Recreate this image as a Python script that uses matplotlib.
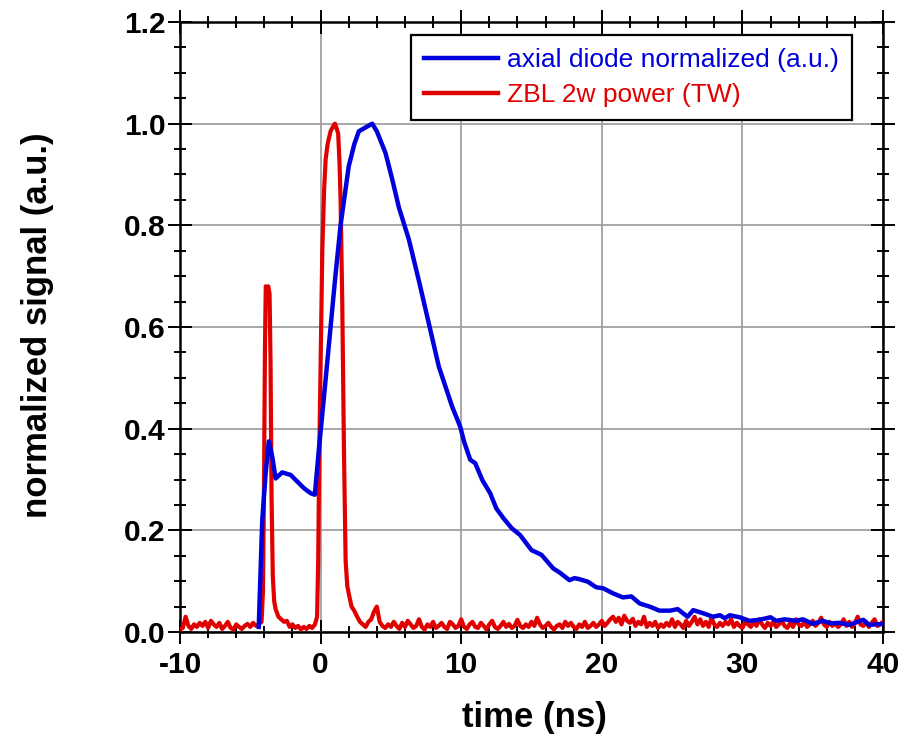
import matplotlib
matplotlib.use('Agg')
import matplotlib.pyplot as plt
import numpy as np
from matplotlib.ticker import MultipleLocator, FormatStrFormatter

plt.rcParams['font.family'] = ['Liberation Sans', 'DejaVu Sans']
plt.rcParams['axes.unicode_minus'] = False

# ---- axial diode (blue) ----
blue_t = [-4.4, -4.15, -3.91, -3.68, -3.44, -3.2, -2.73, -2.13, -1.66, -1.19,
          -0.71, -0.41, -0.12, 0.3, 0.71, 1.05, 1.42, 2.0, 2.4, 2.72,
          3.67, 4.0, 4.62, 5.1, 5.57, 6.28, 7.0, 7.47, 8.41, 9.36,
          9.93, 10.2, 10.64, 11.0, 11.5, 12.06, 12.5, 13.0, 13.6, 14.18,
          15.0, 15.7, 16.55, 17.0, 17.7, 18.06, 18.4, 19.0, 19.6, 20.1,
          20.8, 21.5, 22.1, 22.7, 23.4, 24.1, 24.85, 25.4, 26.1, 26.5,
          27.2, 27.9, 28.4, 28.75, 29.1, 29.8, 30.5, 31.2, 32.0, 32.4,
          33.0, 33.8, 34.3, 35.0, 35.7, 36.3, 36.9, 37.6, 38.6, 39.0, 40.0]
blue_v = [0.01, 0.22, 0.312, 0.375, 0.345, 0.302, 0.314, 0.309, 0.296, 0.283,
          0.273, 0.27, 0.36, 0.48, 0.6, 0.70, 0.8, 0.916, 0.96, 0.985,
          1.0, 0.985, 0.942, 0.89, 0.835, 0.772, 0.69, 0.634, 0.522, 0.443,
          0.404, 0.375, 0.339, 0.332, 0.299, 0.273, 0.243, 0.224, 0.204, 0.191,
          0.161, 0.152, 0.125, 0.117, 0.102, 0.106, 0.104, 0.099, 0.088, 0.086,
          0.076, 0.068, 0.070, 0.056, 0.050, 0.042, 0.042, 0.045, 0.030, 0.043,
          0.037, 0.030, 0.033, 0.027, 0.033, 0.029, 0.022, 0.024, 0.029, 0.022,
          0.025, 0.022, 0.025, 0.016, 0.022, 0.017, 0.018, 0.014, 0.024, 0.014, 0.016]

# ---- ZBL 2w power (red) ----
red_t_pre = np.linspace(-10.0, -4.4, 29)
red_v_pre = [0.005, 0.008, 0.03, 0.012, 0.006, 0.015, 0.01, 0.018, 0.012, 0.02,
             0.008, 0.022, 0.015, 0.01, 0.018, 0.006, 0.012, 0.02, 0.008, 0.005,
             0.015, 0.01, 0.006, 0.012, 0.016, 0.01, 0.018, 0.012, 0.015]
red_t_pk1 = [-4.2, -4.1, -4.03, -3.96, -3.9, -3.82, -3.72, -3.63, -3.56, -3.49, -3.4, -3.3, -3.2]
red_v_pk1 = [0.02, 0.08, 0.27, 0.55, 0.68, 0.675, 0.68, 0.665, 0.53, 0.27, 0.11, 0.06, 0.045]
red_t_mid = np.linspace(-3.0, -0.4, 14)
red_v_mid = [0.03, 0.025, 0.02, 0.022, 0.01, 0.015, 0.008, 0.012, 0.005, 0.01,
             0.006, 0.012, 0.008, 0.015]
red_t_pk2 = [-0.25, -0.17, -0.1, 0.0, 0.12, 0.25, 0.36, 0.5, 0.71, 0.9, 1.02,
             1.15, 1.25, 1.35, 1.42, 1.54, 1.66, 1.78, 1.9, 2.0, 2.2, 2.37]
red_v_pk2 = [0.03, 0.14, 0.34, 0.52, 0.75, 0.87, 0.93, 0.96, 0.985, 0.995, 1.0,
             0.99, 0.98, 0.92, 0.85, 0.65, 0.36, 0.14, 0.09, 0.076, 0.05, 0.043]
red_t_post = np.linspace(2.6, 40.0, 188)
red_v_post = [0.03, 0.02, 0.015, 0.01, 0.02, 0.025, 0.04, 0.05, 0.02, 0.012,
              0.008, 0.015, 0.01, 0.02, 0.012, 0.006, 0.018, 0.01, 0.022, 0.015,
              0.008, 0.012, 0.025, 0.01, 0.005, 0.015, 0.01, 0.02, 0.008, 0.012,
              0.018, 0.01, 0.006, 0.02, 0.015, 0.008, 0.012, 0.025, 0.01, 0.006,
              0.015, 0.02, 0.01, 0.008, 0.018, 0.012, 0.005, 0.015, 0.022, 0.01,
              0.006, 0.012, 0.02, 0.01, 0.016, 0.008, 0.012, 0.024, 0.012, 0.008,
              0.015, 0.01, 0.02, 0.012, 0.028, 0.015, 0.008, 0.012, 0.018, 0.01,
              0.005, 0.012, 0.015, 0.008, 0.02, 0.012, 0.018, 0.01, 0.006, 0.015,
              0.01, 0.02, 0.008, 0.012, 0.018, 0.01, 0.015, 0.022, 0.012, 0.018,
              0.025, 0.03, 0.02, 0.028, 0.015, 0.032, 0.022, 0.018, 0.026, 0.012,
              0.02, 0.015, 0.03, 0.01, 0.018, 0.012, 0.02, 0.008, 0.015, 0.01,
              0.018, 0.012, 0.025, 0.01, 0.02, 0.015, 0.008, 0.022, 0.012, 0.02,
              0.03, 0.015, 0.025, 0.012, 0.02, 0.01, 0.028, 0.015, 0.01, 0.018,
              0.012, 0.02, 0.015, 0.025, 0.01, 0.018, 0.012, 0.008, 0.02, 0.015,
              0.01, 0.02, 0.012, 0.025, 0.015, 0.008, 0.018, 0.012, 0.02, 0.01,
              0.015, 0.022, 0.012, 0.008, 0.018, 0.01, 0.025, 0.015, 0.012, 0.02,
              0.01, 0.015, 0.022, 0.012, 0.018, 0.028, 0.015, 0.01, 0.02, 0.012,
              0.018, 0.01, 0.015, 0.025, 0.012, 0.02, 0.01, 0.018, 0.03, 0.015,
              0.012, 0.02, 0.01, 0.018, 0.025, 0.012, 0.015, 0.02]

red_t = np.concatenate([red_t_pre, red_t_pk1, red_t_mid, red_t_pk2, red_t_post])
red_v = np.concatenate([red_v_pre, red_v_pk1, red_v_mid, red_v_pk2, red_v_post])

labels = ['axial diode normalized (a.u.)', 'ZBL 2w power (TW)']
blue_c = '#0000DD'
red_c = '#E00000'

fig = plt.figure(figsize=(9.09, 7.42), dpi=100)
ax = fig.add_axes([180/909, 110/742, 703/909, 610/742])

ax.plot(red_t, red_v, color=red_c, lw=3.0, label=labels[1], zorder=3)
ax.plot(blue_t, blue_v, color=blue_c, lw=3.2, label=labels[0], zorder=4)

ax.set_xlim(-10, 40)
ax.set_ylim(0, 1.2)
ax.xaxis.set_major_locator(MultipleLocator(10))
ax.xaxis.set_minor_locator(MultipleLocator(2))
ax.yaxis.set_major_locator(MultipleLocator(0.2))
ax.yaxis.set_minor_locator(MultipleLocator(0.05))
ax.yaxis.set_major_formatter(FormatStrFormatter('%.1f'))

ax.grid(True, which='major', color='#a0a0a0', lw=1.3, zorder=0)
ax.set_axisbelow(True)
for s in ax.spines.values():
    s.set_linewidth(1.8)

ax.tick_params(which='both', direction='inout', top=True, right=True,
               width=1.4, colors='black')
ax.tick_params(which='major', length=17, labelsize=21.5)
ax.tick_params(axis='y', which='major', pad=2)
ax.tick_params(axis='x', which='major', pad=5)
ax.tick_params(which='minor', length=9)
for lab in ax.get_xticklabels() + ax.get_yticklabels():
    lab.set_fontweight('bold')

fig.text(534/909, 1 - 718/742, 'time (ns)', ha='center', va='center',
         fontsize=25, fontweight='bold')
fig.text(38/909, 1 - 325/742, 'normalized signal (a.u.)', ha='center', va='center',
         rotation=90, fontsize=25, fontweight='bold')

h, l = ax.get_legend_handles_labels()
leg = ax.legend([h[1], h[0]], [l[1], l[0]], loc='upper right',
                bbox_to_anchor=(852/909, 1 - 35/742), bbox_transform=fig.transFigure,
                fontsize=19, frameon=True, fancybox=False, edgecolor='black',
                framealpha=1, borderaxespad=0, handlelength=2.8, handletextpad=0.35,
                borderpad=0.5, labelspacing=0.42, labelcolor='linecolor')
leg.get_frame().set_linewidth(1.6)
for line in leg.get_lines():
    line.set_linewidth(3.2)

fig.savefig('out.png', dpi=100)
